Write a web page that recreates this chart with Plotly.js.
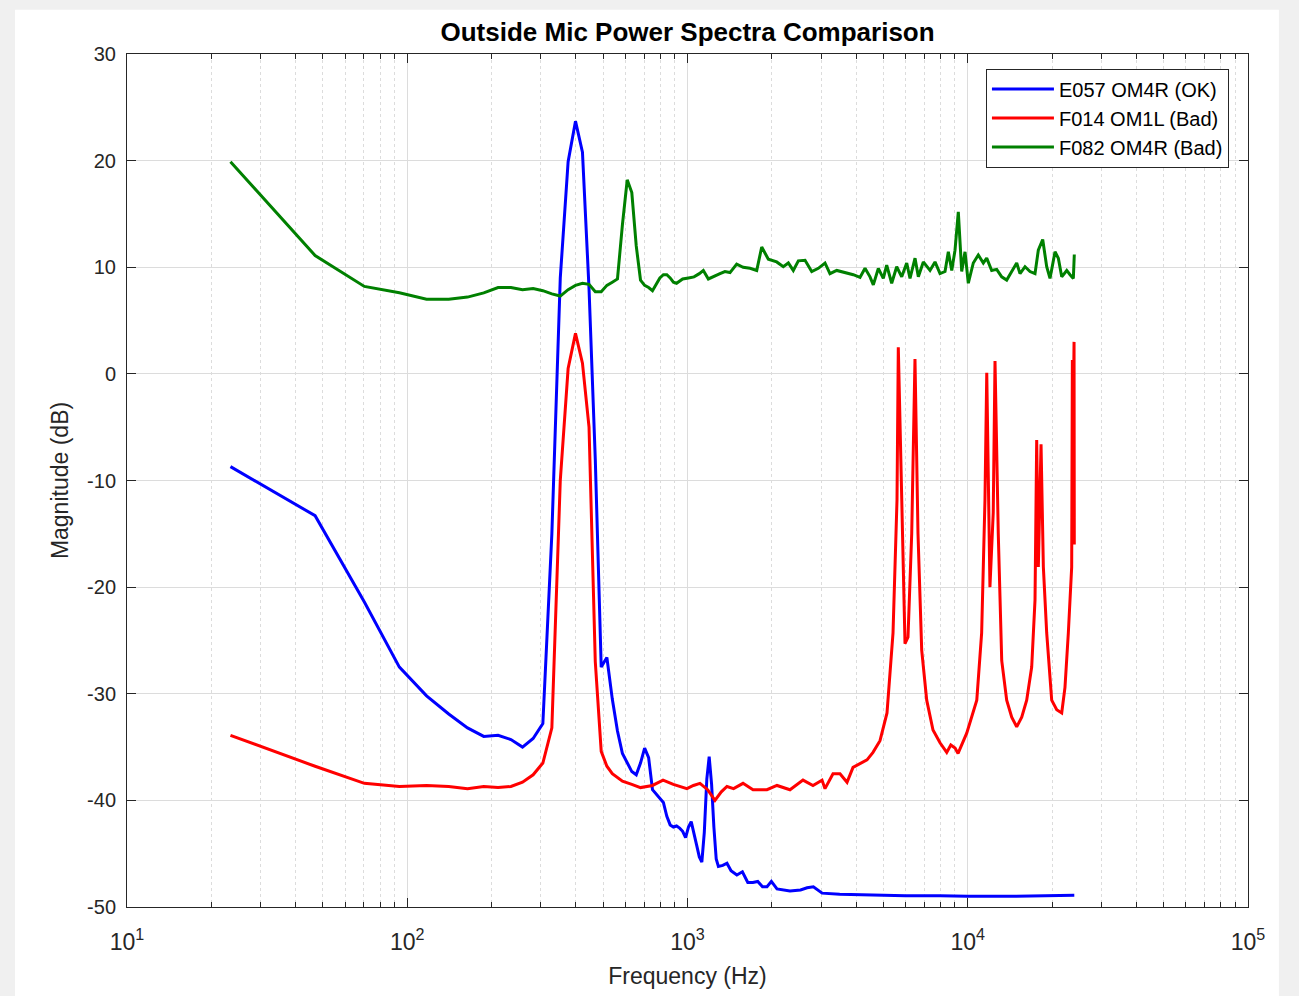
<!DOCTYPE html>
<html>
<head>
<meta charset="utf-8">
<script src="https://cdn.plot.ly/plotly-3.0.1.min.js"></script>
<style>
  html, body { margin: 0; padding: 0; background: #ffffff; }
  #chart { width: 1299px; height: 996px; }
</style>
</head>
<body>
<div id="chart"></div>
<script>
// ---- Data ----
const seriesNames = ["E057 OM4R (OK)", "F014 OM1L (Bad)", "F082 OM4R (Bad)"];

const blueFreq = [23.4, 46.9, 70.3, 93.75, 117.2, 140.6, 164.1, 187.5, 210.9, 234.4, 257.8, 281.3, 304.7,
  328.1, 351.6, 375, 398.4, 421.9, 445.3, 468.8, 492.2, 515.6, 539.1, 562.5, 585.9, 609.4, 632.8, 656.3,
  679.7, 703.1, 726.6, 750, 773.4, 796.9, 820.3, 843.8, 867.2, 890.6, 914.1, 937.5, 960.9, 984.4, 1008,
  1031, 1055, 1078, 1102, 1125, 1148, 1172, 1195, 1219, 1242, 1266, 1289, 1336, 1383, 1430, 1500, 1570,
  1641, 1711, 1781, 1852, 1922, 1992, 2086, 2180, 2320, 2531, 2672, 2813, 3023, 3492, 4594, 6000, 7969,
  10000, 13805, 18000, 24000];
const blueDb = [-8.7, -13.3, -21.4, -27.5, -30.2, -31.9, -33.2, -34.0, -33.9, -34.3, -35.0, -34.2, -32.8,
  -15, 9, 19.9, 23.7, 20.8, 8, -8, -27.5, -26.6, -30.5, -33.5, -35.6, -36.5, -37.3, -37.6,
  -36.5, -35.1, -36, -39, -39.4, -39.8, -40.2, -41.5, -42.3, -42.5, -42.4, -42.6, -42.9, -43.5, -42.5,
  -42.0, -43.0, -44.2, -45.3, -45.8, -43, -38, -35.9, -38.5, -42.5, -45.5, -46.2, -46.1, -45.9, -46.6, -47.0, -46.7,
  -47.7, -47.7, -47.6, -48.1, -48.1, -47.6, -48.3, -48.4, -48.5, -48.4, -48.2, -48.1, -48.7, -48.8, -48.9, -48.95, -48.95,
  -49, -49, -48.95, -48.9];

const redFreq = [23.4, 46.9, 70.3, 93.75, 117.2, 140.6, 164.1, 187.5, 210.9, 234.4, 257.8, 281.3, 304.7,
  328.1, 351.6, 375, 398.4, 421.9, 445.3, 468.8, 492.2, 515.6, 539.1, 585.9, 632.8, 679.7, 750, 818, 890,
  995, 1050, 1108, 1180, 1253, 1320, 1383, 1460, 1578, 1713, 1921, 2086, 2321, 2583, 2804, 3020, 3095,
  3305, 3501, 3709, 3896, 4371, 4591, 4863, 5151, 5412, 5592, 5652, 5813, 5972, 6120, 6310, 6482, 6645,
  6850, 7138, 7516, 7962, 8414, 8700, 9009, 9234, 9916, 10770, 11210, 11520, 11690, 12000, 12330, 12510,
  12850, 13220, 13770, 14350, 14950, 15580, 16230, 16910, 17380, 17620, 17860, 18260, 18610, 19130,
  19930, 20770, 21640, 22230, 22850, 23490, 23620, 23800, 23950, 24000];
const redDb = [-33.9, -36.8, -38.4, -38.7, -38.6, -38.7, -38.9, -38.7, -38.8, -38.7, -38.3, -37.6, -36.5,
  -33.2, -10, 0.5, 3.8, 1.0, -5, -27, -35.4, -36.8, -37.5, -38.2, -38.5, -38.8, -38.6, -38.1, -38.5,
  -38.9, -38.6, -38.4, -39.0, -40.0, -39.2, -38.7, -38.9, -38.4, -39.0, -39.0, -38.6, -39.0, -38.1, -38.6, -38.1, -38.9,
  -37.5, -37.5, -38.3, -36.9, -36.2, -35.5, -34.4, -31.8, -24.3, -11.8, 2.5, -11.8, -25.3, -24.7, -15, 1.4, -15,
  -25.9, -30.6, -33.4, -34.6, -35.5, -34.8, -35.1, -35.6, -33.7, -30.6, -24.3, -11.8, 0.1, -20, -13, 1.2,
  -15, -26.9, -30.6, -32.2, -33.1, -32.2, -30.6, -27.5, -21.2, -6.2, -18.1, -6.6, -18.1, -24.3,
  -30.6, -31.5, -31.8, -29.4, -24.3, -18.1, 1.3, -4, 3.0, -16];

const greenFreq = [23.4, 46.9, 70.3, 93.75, 117.2, 140.6, 164.1, 187.5, 210.9, 234.4, 257.8, 281.3, 304.7,
  328.1, 351.6, 375, 398.4, 421.9, 445.3, 468.8, 492.2, 515.6, 539.1, 562.5, 585.9, 609.4, 632.8, 656.3,
  679.7, 703.1, 726.6, 750, 773.4, 796.9, 820.3, 843.8, 867.2, 890.6, 914.1, 960.9, 1008, 1055, 1102,
  1139, 1187, 1250, 1306, 1360, 1418, 1498, 1580, 1672, 1766, 1840, 1943, 2081, 2197, 2290, 2385, 2486,
  2627, 2775, 2930, 3095, 3224, 3408, 3648, 3905, 4126, 4300, 4480, 4603, 4796, 4997, 5138, 5353, 5578,
  5813, 6057, 6223, 6485, 6663, 6942, 7334, 7642, 7962, 8297, 8525, 8768, 9007, 9254, 9515, 9777, 10046,
  10466, 10905, 11365, 11686, 12175, 12686, 13217, 13772, 14350, 14952, 15364, 16008, 16680, 17378,
  17856, 18513, 19130, 19658, 20484, 21049, 21644, 22555, 23175, 23810, 24000];
const greenDb = [19.9, 11.1, 8.2, 7.6, 7.0, 7.0, 7.2, 7.6, 8.1, 8.1, 7.9, 8.0, 7.8,
  7.5, 7.3, 7.9, 8.3, 8.5, 8.4, 7.7, 7.7, 8.3, 8.6, 8.9, 14.0, 18.2, 17.0, 12.0,
  8.8, 8.3, 8.1, 7.8, 8.4, 9.0, 9.3, 9.3, 9.0, 8.6, 8.5, 8.9, 9.0, 9.1, 9.4,
  9.7, 8.9, 9.2, 9.4, 9.6, 9.5, 10.3, 10.0, 9.9, 9.7, 11.9, 10.75, 10.5, 10.05, 10.4, 9.7, 10.6,
  10.65, 9.6, 9.9, 10.4, 9.4, 9.7, 9.5, 9.3, 9.05, 9.9, 9.1, 8.35, 9.9, 8.95, 10.2, 8.5, 10.05,
  9.1, 10.4, 8.95, 10.85, 9.1, 10.5, 9.7, 10.5, 9.4, 9.6, 11.45, 9.7, 11.6, 15.2, 9.6, 11.45, 8.5,
  10.4, 11.15, 10.4, 10.85, 9.7, 9.8, 9.1, 8.8, 9.6, 10.4, 9.4, 10.05, 9.6, 9.4,
  11.6, 12.6, 10.05, 8.95, 11.45, 10.85, 9.1, 9.7, 9.3, 8.95, 11.2];

const xTickVals = [10, 100, 1000, 10000, 100000];
const xTickText = ["10<sup>1</sup>", "10<sup>2</sup>", "10<sup>3</sup>", "10<sup>4</sup>", "10<sup>5</sup>"];
const yTickVals = [-50, -40, -30, -20, -10, 0, 10, 20, 30];
const yTickText = ["-50", "-40", "-30", "-20", "-10", "0", "10", "20", "30"];

// ---- Chart ----
const font = "Liberation Sans, Arial, Helvetica, sans-serif";
const axisColor = "#262626";

const traces = [
  {x: blueFreq, y: blueDb, name: seriesNames[0], mode: "lines", line: {color: "#0000ff", width: 3}},
  {x: redFreq, y: redDb, name: seriesNames[1], mode: "lines", line: {color: "#ff0000", width: 3}},
  {x: greenFreq, y: greenDb, name: seriesNames[2], mode: "lines", line: {color: "#008000", width: 3}}
];

const layout = {
  width: 1299, height: 996,
  margin: {l: 127, r: 51, t: 54, b: 89, pad: 0},
  paper_bgcolor: "#f0f0f0",
  plot_bgcolor: "#ffffff",
  font: {family: font, color: axisColor, size: 19},
  title: {text: "<b>Outside Mic Power Spectra Comparison</b>", x: 0.5293, xanchor: "center",
          y: 0.968, yanchor: "middle", font: {family: font, size: 26, color: "#000000"}},
  showlegend: true,
  legend: {x: 0.983, xanchor: "right", y: 0.983, yanchor: "top",
           bgcolor: "#ffffff", bordercolor: "#262626", borderwidth: 1,
           itemwidth: 62, tracegroupgap: 0,
           font: {family: font, size: 20, color: "#000000"}},
  xaxis: {
    type: "log", range: [1, 5],
    tickvals: xTickVals, ticktext: xTickText,
    ticks: "inside", ticklen: 9, tickcolor: axisColor,
    ticklabelstandoff: 14,
    showline: true, linecolor: axisColor, linewidth: 1, mirror: "ticks",
    showgrid: true, gridcolor: "#dcdcdc", gridwidth: 1,
    minor: {dtick: "D1", ticks: "inside", ticklen: 5, tickcolor: axisColor,
            showgrid: true, gridcolor: "#dcdcdc", griddash: "dot", gridwidth: 1},
    zeroline: false,
    tickfont: {size: 23, color: axisColor},
    title: {text: "Frequency (Hz)", font: {size: 23, color: axisColor}, standoff: 14}
  },
  yaxis: {
    range: [-50, 30], tickvals: yTickVals, ticktext: yTickText,
    ticks: "inside", ticklen: 9, tickcolor: axisColor,
    ticklabelstandoff: 6,
    showline: true, linecolor: axisColor, linewidth: 1, mirror: "ticks",
    showgrid: true, gridcolor: "#dcdcdc", gridwidth: 1,
    zeroline: false,
    tickfont: {size: 20, color: axisColor},
    title: {text: "Magnitude (dB)", font: {size: 23, color: axisColor}, standoff: 12}
  },
  shapes: [
    {type: "rect", xref: "paper", yref: "paper", layer: "below",
     x0: -0.0999, x1: 1.0276, y0: -0.105, y1: 1.052,
     fillcolor: "#ffffff", line: {width: 0}}
  ]
};

Plotly.newPlot("chart", traces, layout, {displayModeBar: false, staticPlot: true});
</script>
</body>
</html>
